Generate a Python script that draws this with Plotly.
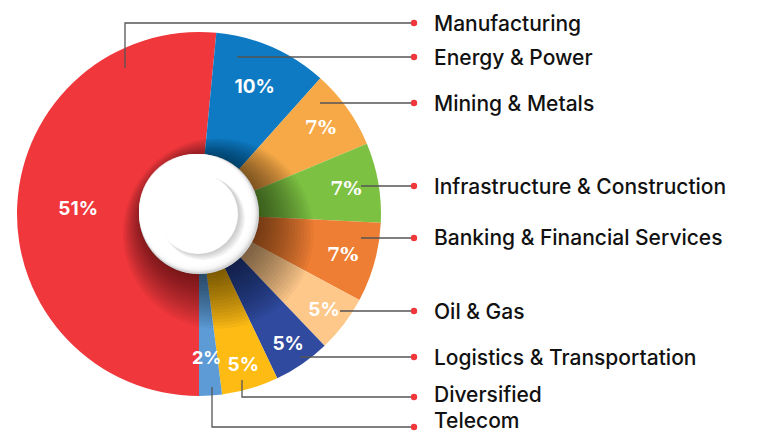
import math
import plotly.graph_objects as go

# Data
sectors = [
    "Manufacturing",
    "Energy & Power",
    "Mining & Metals",
    "Infrastructure & Construction",
    "Banking & Financial Services",
    "Oil & Gas",
    "Logistics & Transportation",
    "Diversified",
    "Telecom",
]
shares = [51, 10, 7, 7, 7, 5, 5, 5, 2]
colors = [
    "#EF373C", "#0E7AC3", "#F7A948", "#7DC143", "#EE7E33",
    "#FDC88A", "#2F4A9E", "#FDBB14", "#5C9BD5",
]

W, H = 761, 434
CX, CY, R = 199, 214, 182
ROTATION = 180


def px(x, y):
    """pixel -> paper coords"""
    return x / W, 1 - y / H


def circle(cx, cy, r, **kw):
    x0, y0 = px(cx - r, cy + r)
    x1, y1 = px(cx + r, cy - r)
    return dict(type="circle", xref="paper", yref="paper",
                x0=x0, y0=y0, x1=x1, y1=y1, **kw)


# leader lines in px
leaders = [
    [(125, 68), (125, 23), (414, 23)],
    [(237, 57), (414, 57)],
    [(320, 103), (414, 103)],
    [(361, 186), (414, 186)],
    [(361, 238), (414, 238)],
    [(340, 311), (414, 311)],
    [(300, 357), (414, 357)],
    [(242, 380), (242, 397), (414, 397)],
    [(212, 387), (212, 427), (414, 427)],
]
# small nudges so the two bottom labels fit the page without touching
label_dy = [0, 0, 0, 0, 0, 0, 0, -3, -7]

serif = "DejaVu Serif"
sans = "Inter"
fonts = [sans, sans, serif, serif, serif, sans, sans, sans, sans]
tiny = [v < 3 for v in shares]  # slices too thin for plotly's own inside text

fig = go.Figure()
d0 = px(CX - R, CY + R)
d1 = px(CX + R, CY - R)
fig.add_trace(
    go.Pie(
        labels=sectors,
        values=shares,
        text=["" if t else f"{v}%" for v, t in zip(shares, tiny)],
        textinfo="text",
        textposition="inside",
        insidetextorientation="horizontal",
        insidetextfont=dict(color="white", size=19, family=fonts, weight=700),
        marker=dict(colors=colors, line=dict(width=0)),
        sort=False,
        direction="clockwise",
        rotation=ROTATION,
        hole=0.33,
        domain=dict(x=[d0[0], d1[0]], y=[d0[1], d1[1]]),
        showlegend=False,
        hoverinfo="label+text",
    )
)

annotations = []
# labels for the thin slices, near the slice mid-angle
total = sum(shares)
acc = 0
for v, t in zip(shares, tiny):
    mid = ROTATION + (acc + v / 2) / total * 360
    acc += v
    if not t:
        continue
    a = math.radians(mid)
    lx, ly = px(CX + 0.86 * R * math.sin(a) - 2, CY - 0.86 * R * math.cos(a))
    annotations.append(dict(x=lx, y=ly, xref="paper", yref="paper", text=f"{v}%",
                            showarrow=False, xanchor="center",
                            font=dict(color="white", size=18, family=sans, weight=700)))

shapes = []
# soft shadow around the hub, falling to the lower right
for i in range(18):
    shapes.append(circle(CX + 4 + i * 0.9, CY + 4 + i * 0.9, 58 + i * 2.2,
                         fillcolor="rgba(0,0,0,0.035)", line=dict(width=0)))
shapes.append(circle(CX, CY, 60, fillcolor="#d4d4d4", line=dict(width=0)))
for i in range(6):
    shapes.append(circle(CX - 1 - i * 0.6, CY - 1 - i * 0.6, 59 - i * 0.6,
                         fillcolor="rgba(255,255,255,0.45)", line=dict(width=0)))
shapes.append(circle(CX - 4, CY - 4, 55, fillcolor="white", line=dict(width=0)))
for i in range(5):
    shapes.append(circle(CX + 1 + i * 0.8, CY + 1 + i * 0.8, 40 + i * 0.5,
                         fillcolor="rgba(0,0,0,0.04)", line=dict(width=0)))
shapes.append(circle(CX - 1, CY, 40, fillcolor="white", line=dict(width=0)))

for pts, name, dy in zip(leaders, sectors, label_dy):
    path = "M " + " L ".join(f"{px(x, y)[0]},{px(x, y)[1]}" for x, y in pts)
    shapes.append(dict(type="path", xref="paper", yref="paper", path=path,
                       line=dict(color="#555555", width=1.3)))
    ex, ey = pts[-1]
    shapes.append(circle(ex, ey, 3.2, fillcolor="#EF373C", line=dict(width=0)))
    ax, ay = px(433, ey + dy)
    annotations.append(dict(
        x=ax, y=ay, xref="paper", yref="paper", text=name, showarrow=False,
        xanchor="left", yanchor="middle", borderpad=0,
        font=dict(family=sans, size=21, color="#111111", weight=500),
    ))

fig.update_layout(
    width=W,
    height=H,
    margin=dict(l=0, r=0, t=0, b=0),
    paper_bgcolor="white",
    plot_bgcolor="white",
    shapes=shapes,
    annotations=annotations,
)

fig.write_html("out.html", config={"displayModeBar": False},
               post_script="document.body.style.margin='0';")
